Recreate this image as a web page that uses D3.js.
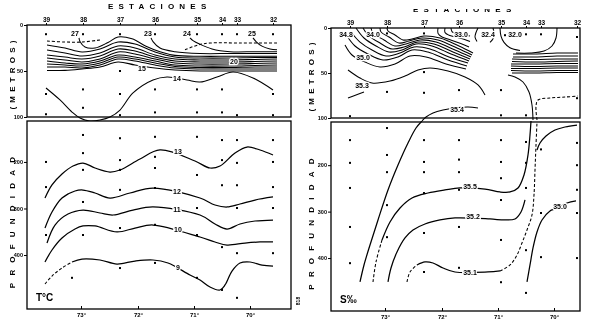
<!DOCTYPE html>
<html><head><meta charset="utf-8">
<script src="https://cdn.jsdelivr.net/npm/d3@7/dist/d3.min.js"></script>
<style>html,body{margin:0;padding:0;background:#fff;}svg{display:block;filter:grayscale(1);}</style>
</head><body>
<svg id="chart" width="600" height="335"></svg>
<script>
// ================= DATA =================
// stations along the section (distance units along the transect)
const stations = ["39","38","37","36","35","34","33","32"];
const stationDist = [0,37,74,109,151,176,191,227];
const bottomTicks = [35,92,148,204];
const bottomTickLabels = ["73°","72°","71°","70°"];
const upperDepthTicks = [0,50,100];
const lowerDepthTicks = [200,300,400];

// ---- Temperature, 0-100 m : [distance, depth m]
const tempUpperLines = [
 {name:"T25", pts:[[207,14],[210,18],[216,23],[224,26],[231,27]]},
 {name:"T24", pts:[[144,14],[147,17],[154,21],[166,26],[184,29],[209,29],[231,29]]},
 {name:"T23", pts:[[105,14],[107,18],[114,25],[129,29],[154,31],[184,31],[209,31],[231,31]]},
 {name:"T27", pts:[[33,14],[34,18],[39,24],[49,25],[62,19],[72,13],[86,15],[100,23],[114,29],[129,33],[154,34],[184,34],[209,34],[231,34]]},
 {name:"Ta", pts:[[1,21.7],[19,25],[36,29.3],[54,26.1],[72,18.5],[89,20.7],[109,29.3],[129,34.8],[154,35.9],[184,35.9],[209,35.3],[231,35.3]]},
 {name:"Tb", pts:[[1,27.2],[19,30.4],[36,33.7],[54,30.4],[72,22.8],[89,25],[109,32.6],[129,37],[154,38],[184,38],[209,37.5],[231,37]]},
 {name:"Tc", pts:[[1,32.6],[19,34.8],[36,37],[54,33.7],[72,26.1],[89,28.3],[109,34.8],[129,39.1],[154,40.2],[184,40.2],[209,39.7],[231,39.1]]},
 {name:"Td", pts:[[1,35.9],[19,38],[36,40.2],[54,37],[72,29.3],[89,31.5],[109,37],[129,41.3],[154,42.4],[184,42.4],[209,41.9],[231,41.3]]},
 {name:"Te", pts:[[1,39.1],[19,41.3],[36,42.4],[54,39.1],[72,32.6],[89,34.8],[109,39.1],[129,43.5],[154,44.6],[184,44.6],[209,44],[231,43.5]]},
 {name:"Tf", pts:[[1,42.4],[19,43.5],[36,44.6],[54,41.3],[72,34.8],[89,37],[109,41.3],[129,45.1],[154,46.2],[184,46.2],[209,45.7],[231,45.7]]},
 {name:"Tg", pts:[[1,45.7],[19,45.7],[36,46.7],[54,43.5],[72,37],[89,39.1],[109,43.5],[129,46.7],[154,47.8],[184,47.8],[209,47.8],[231,47.8]]},
 {name:"T15", pts:[[1,49.5],[19,49.3],[36,47.8],[54,45.7],[72,40.2],[89,43.5],[109,46.7],[129,48.9],[154,50],[184,50],[209,50],[231,50]]},
 {name:"T14", pts:[[0,68.5],[14,81.5],[26,94.6],[34,101.1],[44,104.4],[54,103.3],[64,100],[74,92.4],[87,73.9],[107,59.8],[121,56.5],[141,59.8],[154,62],[171,56.5],[187,51.1],[207,57.6],[227,70.7]]},
 {name:"TdashA", pts:[[1,17.4],[19,18.5],[36,18.5],[54,16.3]]},
 {name:"TdashB", pts:[[139,27],[152,21.7],[164,19.6],[194,19.6],[231,19.6]]}
];
const tempUpperLabels = [["27",29,9],["23",102,9],["24",141,9],["25",206,9],["20",188,40],["15",96,47],["14",131,58]];

// ---- Temperature, 100-500 m
const tempLowerLines = [
 {name:"L13", pts:[[-1,277.5],[6,249.5],[16,225.9],[27,208.7],[37,202.3],[49,213],[64,221.6],[74,217.3],[94,193.7],[114,174.3],[149,198],[164,213],[174,208.7],[189,180.8],[201,167.9],[214,174.3],[227,185.1]]},
 {name:"L12", pts:[[-1,342],[6,307.6],[16,277.5],[29,262.4],[37,260.3],[49,266.7],[64,277.5],[84,266.7],[107,256],[154,277.5],[169,292.5],[181,296.8],[194,290.4],[209,281.8],[227,275.3]]},
 {name:"L11", pts:[[1,374.2],[9,335.5],[22,311.9],[37,303.3],[54,309.7],[67,314],[87,303.3],[107,296.8],[154,314],[169,333.3],[181,344.1],[194,333.3],[209,326.9],[227,324.8]]},
 {name:"L10", pts:[[-1,415],[6,389.2],[16,363.4],[29,344.1],[37,337.6],[49,337.6],[71,350.5],[89,342],[107,335.5],[154,361.3],[169,372],[181,378.5],[199,374.2],[214,372],[227,372]]},
 {name:"L9a", pts:[[-1,462.3],[6,445.1],[16,427.9],[26,415]]},
 {name:"L9", pts:[[26,415],[36,408.6],[54,410.7],[71,419.3],[89,412.9],[107,410.7],[122,417.2],[144,443],[154,453.7],[164,468.7],[174,475.2],[179,464.4],[186,434.4],[194,417.2],[204,415],[216,421.5],[227,423.6]]}
];
const tempLowerLabels = [["13",132,178.6],["12",131,264.6],["11",131,303.3],["10",132,346],["9",132,428]];

// ---- Salinity, 0-100 m
const salUpperLines = [
 {name:"R0", pts:[[-5,18.9],[2,30],[15,37.8],[30,43.3],[45,40],[60,31.1],[76,32.2],[96,40],[116,45.6]]},
 {name:"R1", pts:[[-3,8.9],[5,20],[18,28.9],[33,35.6],[48,32.2],[62,24.4],[78,26.7],[98,35.6],[117,42.2]]},
 {name:"R2", pts:[[1,4.4],[10,15.6],[22,24.4],[36,31.1],[50,27.8],[64,21.1],[80,23.3],[99,32.2],[118,38.9]]},
 {name:"R3", pts:[[6,0],[14,11.1],[26,20],[39,26.7],[52,24.4],[66,17.8],[82,20],[101,28.9],[119,36.7]]},
 {name:"R4", pts:[[13,0],[18,7.8],[30,16.7],[42,23.3],[54,21.1],[68,15.6],[84,17.8],[103,26.7],[120,34.4]]},
 {name:"R5", pts:[[21,0],[23,5.6],[34,13.3],[45,20],[56,17.8],[70,13.3],[86,15.6],[105,24.4],[121,32.2]]},
 {name:"R6", pts:[[30,0],[31,4.4],[39,10],[49,16.7],[59,14.4],[72,11.1],[88,13.3],[107,22.2],[122,30]]},
 {name:"R7", pts:[[37,0],[38,3.3],[45,7.8],[53,13.3],[62,12.2],[74,8.9],[90,11.1],[109,20],[123,27.8]]},
 {name:"R8", pts:[[88,0],[88,6],[92,10],[100,13],[110,17],[119,21]]},
 {name:"R9", pts:[[95,0],[95,5],[99,8],[106,10],[114,12.5],[120,15]]},
 {name:"R10", pts:[[101,0],[102,4],[106,6],[113,7.5],[120,9]]},
 {name:"R11", pts:[[128,0],[126,5],[125,10],[127,15]]},
 {name:"R12", pts:[[143,0],[144,6],[143,12],[140,16]]},
 {name:"R13", pts:[[150,0],[151,9],[154,16],[160,22],[170,25]]},
 {name:"RU", pts:[[207,0],[206,11.1],[202,20],[194,25.6],[180,27.8],[166,27.8]]},
 {name:"RB1", pts:[[163,28.9],[185,28.9],[207,27.8],[228,27.8]]},
 {name:"RB2", pts:[[163,32.2],[185,32.2],[207,31.1],[228,31.1]]},
 {name:"RB3", pts:[[162,34.4],[185,35],[207,34.4],[228,34.4]]},
 {name:"RB4", pts:[[162,37.2],[185,37.8],[207,37.2],[228,36.7]]},
 {name:"RB5", pts:[[161,40],[185,40],[207,39.4],[228,39.4]]},
 {name:"RB6", pts:[[161,42.2],[185,42.8],[207,42.2],[228,42.2]]},
 {name:"RB7", pts:[[161,45],[185,45],[207,44.4],[228,44.4]]},
 {name:"RB8", pts:[[161,47.2],[185,47.8],[207,47.2],[228,47.2]]},
 {name:"RB9", pts:[[162,50],[185,50],[207,49.4],[228,49.4]]},
 {name:"S352", pts:[[-2,46.7],[10,55.6],[22,61.1],[40,58.9],[55,53.3],[68,46.7],[80,44.4],[98,47.8],[115,54.4],[128,63.3],[135,74.4]]},
 {name:"S353", pts:[[-2,77.8],[6,74.4],[14,71.1]]},
 {name:"S354top", pts:[[72,103.3],[76,98.9],[83,94.4],[93,91.1],[105,88.9],[118,87.8],[128,88.9]]},
 {name:"S355top", pts:[[183,102.2],[182,85.6],[179,71.1],[173,60],[165,54.4],[158,52.2]]},
 {name:"S351top", pts:[[187,102.2],[186,86.7],[188,80],[200,77.8],[215,76.7],[228,75.6]]}
];
const salUpperLabels = [["34.8",-4,7],["34.0",23,7],["33.0",111,7],["32.4",138,7],["32.0",165,7],["35.0",13,33],["35.3",12,64],["35.4",107,91]];

// ---- Salinity, 100-500 m
const salLowerLines = [
 {name:"S354", pts:[[10,451.5],[14,414.9],[20,371.8],[28,318],[38,253.4],[48,199.6],[58,152.2],[66,119.9],[72,104.8]]},
 {name:"S355a", pts:[[23,451.5],[26,408.4],[32,361.1]]},
 {name:"S355", pts:[[32,361.1],[40,322.3],[50,292.1],[62,270.6],[78,259.9],[95,253.4],[110,249.1],[135,251.3],[150,257.7],[160,257.7],[168,249.1],[174,221.1],[178,178],[180,135],[181,104.8]]},
 {name:"S352b", pts:[[38,451.5],[41,421.4],[47,386.9],[55,356.7],[63,339.5],[75,326.6],[90,318],[105,313.7],[140,315.8],[155,318],[165,315.8],[171,300.8],[175,274.9]]},
 {name:"S351a", pts:[[57,451.5],[60,430],[67,414.9]]},
 {name:"S351", pts:[[67,414.9],[75,408.4],[83,410.6],[93,421.4],[105,430],[138,430],[150,427.8]]},
 {name:"S351b", pts:[[150,427.8],[160,414.9],[167,393.4],[172,367.5],[177,339.5],[182,307.2],[184,264.2],[185,210.3],[186,156.5],[187,107]]},
 {name:"S350", pts:[[177,451.5],[180,414.9],[183,378.3],[187,343.8],[192,318],[200,298.6],[205,294.3],[217,281.4],[226,277]]},
 {name:"SF", pts:[[187,167.3],[190,152.2],[196,137.1],[205,124.2],[215,117.8],[227,113.5]]}
];
const salLowerLabels = [["35.5",120,245],["35.2",123,311.5],["35.1",120,432],["35.0",210,289]];

// sample points (stations x depth)
const tempDotsUpper = [[0,10],[0,75],[0,97],[37,10],[37,70],[37,90],[74,10],[74,50],[74,75],[74,98],[109,10],[109,70],[109,95],[151,10],[151,70],[151,95],[176,10],[176,70],[176,95],[191,10],[191,98],[227,10],[227,75],[227,98]];
const tempDotsLower = [[0,200],[0,254],[0,357],[26,449],[37,142],[37,181],[37,217],[37,286],[37,357],[74,149],[74,196],[74,217],[74,260],[74,342],[74,428],[109,146],[109,189],[109,213],[109,256],[109,335],[109,417],[151,146],[151,228],[151,299],[151,357],[151,449],[176,153],[176,196],[176,250],[176,383],[176,475],[191,153],[191,202],[191,250],[191,299],[191,396],[191,492],[227,153],[227,200],[227,254],[227,299],[227,396]];
const salDotsUpper = [[0,98],[37,6],[37,71],[74,6],[74,49],[74,72],[109,69],[151,69],[151,97],[155,8],[176,7],[176,97],[191,7],[227,10],[227,78]];
const salDotsLower = [[0,146],[0,195],[0,249],[0,333],[0,411],[37,120],[37,178],[37,215],[37,286],[37,355],[74,146],[74,193],[74,215],[74,260],[74,346],[74,430],[109,146],[109,188],[109,215],[109,253],[109,333],[109,421],[151,146],[151,193],[151,228],[151,275],[151,361],[151,452],[176,150],[176,195],[176,249],[176,383],[176,475],[191,166],[191,303],[191,398],[227,152],[227,200],[227,253],[227,303],[227,400]];

const dashedNames = new Set(["TdashA","TdashB","L9a","S355a","S351a","S351b","S351top"]);

// ================= DRAWING =================
const svg = d3.select("#chart");
const FONT = "'Liberation Sans', Arial, sans-serif";
const INK = "#000";
const defs = svg.append("defs");

const panels = [
 { id:"L", x:d3.scaleLinear().domain([-19,245]).range([27,291]),
   yT:d3.scaleLinear().domain([0,100]).range([25,117]),
   yB:d3.scaleLinear().domain([112,516]).range([121,309]),
   upper:tempUpperLines, upperLab:tempUpperLabels, lower:tempLowerLines, lowerLab:tempLowerLabels,
   dotsU:tempDotsUpper, dotsL:tempDotsLower, tag:"T°C", sideX:12 },
 { id:"R", x:d3.scaleLinear().domain([-19,230]).range([331,580]),
   yT:d3.scaleLinear().domain([0,100]).range([28,118]),
   yB:d3.scaleLinear().domain([107,514]).range([122,311]),
   upper:salUpperLines, upperLab:salUpperLabels, lower:salLowerLines, lowerLab:salLowerLabels,
   dotsU:salDotsUpper, dotsL:salDotsLower, tag:"S‰", sideX:311 }
];

function styleAxis(a, fs){
  a.attr("font-family", FONT).attr("font-size", fs).attr("font-weight","bold");
  a.selectAll("line").attr("stroke", INK).attr("stroke-width", 1);
  a.selectAll("text").attr("fill", INK);
  a.select(".domain").remove();
}

function drawSection(g, x, y, lines, labels, dots, clipId, ypad, sw){
  const [x0,x1] = x.range(), [y0,y1] = y.range();
  defs.append("clipPath").attr("id", clipId).append("rect")
    .attr("x", x0).attr("y", y0 - 1).attr("width", x1 - x0).attr("height", y1 - y0 + 1 + ypad);
  const line = d3.line().x(p => x(p[0])).y(p => y(p[1])).curve(d3.curveCatmullRom.alpha(0.5));
  g.append("g").attr("clip-path", `url(#${clipId})`)
    .selectAll("path").data(lines).join("path")
    .attr("d", l => line(l.pts))
    .attr("fill","none").attr("stroke", INK)
    .attr("stroke-width", l => dashedNames.has(l.name) ? 1.05 : sw)
    .attr("stroke-dasharray", l => dashedNames.has(l.name) ? "3,2" : null)
    .attr("stroke-linejoin","round");
  g.append("g").selectAll("text").data(labels).join("text")
    .attr("x", d => x(d[1])).attr("y", d => y(d[2])).attr("dy","0.35em")
    .attr("text-anchor","middle").attr("font-family", FONT).attr("font-weight","bold").attr("font-size", 7)
    .attr("fill", INK).attr("stroke","#fff").attr("stroke-width", 2.6).attr("paint-order","stroke")
    .text(d => d[0]);
  g.append("g").selectAll("rect").data(dots).join("rect")
    .attr("x", d => x(d[0]) - 1).attr("y", d => y(d[1]) - 1).attr("width", 2).attr("height", 2).attr("fill", INK);
}

panels.forEach(p => {
  const g = svg.append("g");
  const [x0,x1] = p.x.range();
  drawSection(g, p.x, p.yT, p.upper, p.upperLab, p.dotsU, "clipU"+p.id, 4, 1.05);
  drawSection(g, p.x, p.yB, p.lower, p.lowerLab, p.dotsL, "clipB"+p.id, 0, 1.25);

  // frames
  [p.yT, p.yB].forEach(y => {
    const [y0,y1] = y.range();
    g.append("rect").attr("x", x0).attr("y", y0).attr("width", x1-x0).attr("height", y1-y0)
      .attr("fill","none").attr("stroke", INK).attr("stroke-width", 1.3);
  });

  // station axis (top)
  const st = g.append("g").attr("transform", `translate(0,${p.yT.range()[0]})`)
    .call(d3.axisTop(p.x).tickValues(stationDist).tickFormat((d,i)=>stations[i]).tickSizeInner(2).tickSizeOuter(0).tickPadding(1.5));
  styleAxis(st, 6.5);

  // depth axes
  const du = g.append("g").attr("transform", `translate(${x0},0)`)
    .call(d3.axisLeft(p.yT).tickValues(upperDepthTicks).tickSizeInner(3).tickSizeOuter(0).tickPadding(1));
  styleAxis(du, 5.5);
  const dl = g.append("g").attr("transform", `translate(${x0},0)`)
    .call(d3.axisLeft(p.yB).tickValues(lowerDepthTicks).tickSizeInner(3).tickSizeOuter(0).tickPadding(1));
  styleAxis(dl, 5.5);

  // bottom axis
  const bt = g.append("g").attr("transform", `translate(0,${p.yB.range()[1]})`)
    .call(d3.axisBottom(p.x).tickValues(bottomTicks).tickFormat((d,i)=>bottomTickLabels[i]).tickSizeInner(-3).tickSizeOuter(0).tickPadding(4));
  styleAxis(bt, 6);

  // side titles
  const yTm = (p.yT.range()[0] + p.yT.range()[1]) / 2 + 2;
  g.append("text").attr("transform", `translate(${p.sideX},${yTm}) rotate(-90)`)
    .attr("text-anchor","middle").attr("dy","0.35em").attr("font-family", FONT).attr("font-weight","bold")
    .attr("font-size", 8).attr("letter-spacing", 4.2).attr("fill", INK).text("(METROS)");
  const yBm = (p.yB.range()[0] + p.yB.range()[1]) / 2 + 4;
  g.append("text").attr("transform", `translate(${p.sideX},${yBm}) rotate(-90)`)
    .attr("text-anchor","middle").attr("dy","0.35em").attr("font-family", FONT).attr("font-weight","bold")
    .attr("font-size", 8).attr("letter-spacing", 7.2).attr("fill", INK).text("PROFUNDIDAD");

  // variable tag
  g.append("text").attr("x", x0 + 9).attr("y", p.yB.range()[1] - 8)
    .attr("font-family", FONT).attr("font-weight","bold").attr("font-size", 10).attr("fill", INK).text(p.tag);
});

// top titles
svg.append("text").attr("x", 108).attr("y", 9).attr("font-family", FONT).attr("font-weight","bold")
  .attr("font-size", 8).attr("letter-spacing", 5.2).attr("fill", INK).text("ESTACIONES");
defs.append("clipPath").attr("id","ttlclip").append("rect").attr("x", 400).attr("y", 9).attr("width", 130).attr("height", 3);
svg.append("text").attr("clip-path","url(#ttlclip)").attr("x", 413).attr("y", 11.5).attr("font-family", FONT).attr("font-weight","bold")
  .attr("font-size", 8).attr("letter-spacing", 5.2).attr("fill", INK).text("ESTACIONES");

// page mark
svg.append("text").attr("transform","translate(298,301) rotate(-90)").attr("text-anchor","middle")
  .attr("dy","0.35em").attr("font-family", FONT).attr("font-weight","bold").attr("font-size", 5).attr("fill", INK).text("818");
</script>
</body></html>
